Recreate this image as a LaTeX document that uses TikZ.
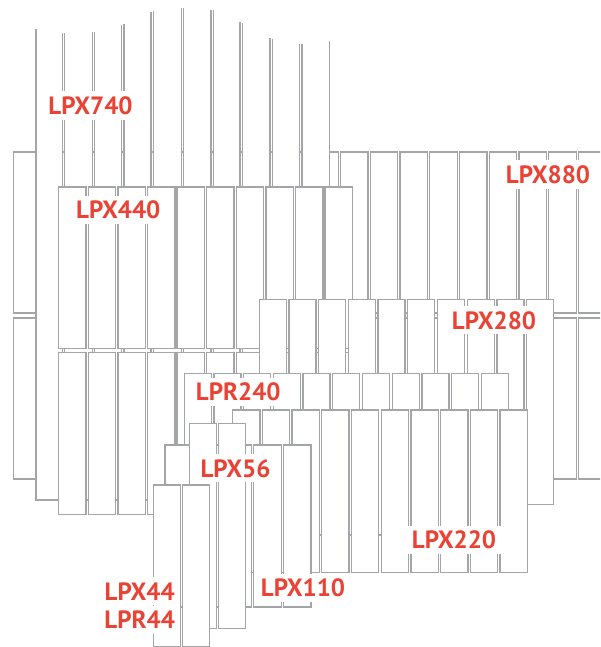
\documentclass[tikz,border=0pt]{standalone}
\usepackage{fontspec}
\setmainfont{PT Sans}
\usetikzlibrary{positioning}

\definecolor{linegray}{RGB}{163,165,166}
\definecolor{labelred}{RGB}{234,67,53}

\tikzset{
  panel/.style={draw=linegray,fill=white,line width=1.25pt},
  edge/.style={draw=linegray,line width=1.25pt},
  model/.style={fill=white,text=labelred,inner sep=5pt,
    font=\fontsize{25}{28}\selectfont\bfseries}
}

% one row of panels: first x, pitch, count, width, top, bottom
\newcommand{\panelrow}[6]{%
  \foreach \i in {1,...,#3}
    \draw[panel] ({#1+(\i-1)*#2},#5) rectangle ++(#4,{#6-#5});
}

\begin{document}
\begin{tikzpicture}[x=1pt,y=-1pt]
    \useasboundingbox (0,0) rectangle (600,647);
    \clip (0,0) rectangle (600,647);
    % LPX880, two rows at the back
    \panelrow{13.2}{29.75}{20}{27.6}{152}{313}
    \panelrow{13.2}{29.75}{20}{27.6}{318}{479}
    % LPX740, open at the top
    \foreach \l/\r/\tl/\tr in {36/62.3/29/33.3, 64.3/92.3/33.3/32.3,
        94.3/121.7/32.3/25, 124/151/24/12.3, 153.5/181.7/11.3/7.7,
        183.7/211/7.7/10, 213.3/240/10/21.7, 242.3/270/22.7/37.7,
        272.7/299.3/38.7/44, 302/329.3/44/41}
    {
        \fill[white] (\l,500) -- (\l,\tl) -- (\r,\tr) -- (\r,500) -- cycle;
        \draw[edge] (\l,\tl) -- (\l,500) -- (\r,500) -- (\r,\tr);
    }
    % LPX440
    \panelrow{58.7}{29.6}{10}{27.4}{187}{348.5}
    \panelrow{58.7}{29.6}{10}{27.4}{352.5}{514.5}
    % LPX280
    \panelrow{259.3}{29.7}{10}{27}{299.3}{504.3}
    % LPR240
    \panelrow{184.3}{29.7}{11}{27}{373.3}{535}
    % LPX220
    \panelrow{232.7}{29.7}{10}{27.3}{410}{572.3}
    % LPX110
    \panelrow{165}{29.6}{5}{27.5}{445}{607}
    % LPX56
    \panelrow{189.3}{29.4}{2}{27}{423.3}{628.7}
    % LPX44 / LPR44
    \panelrow{153.3}{29.4}{2}{27}{485}{646.5}

    \node[model] (lpx740) at (90.5,105.5) {LPX740};
    \node[model] (lpx880) at (548,174.5) {LPX880};
    \node[model] (lpx440) at (118.3,210) {LPX440};
    \node[model] (lpx280) at (494,320.3) {LPX280};
    \node[model] (lpr240) at (238.3,392) {LPR240};
    \node[model] (lpx56) at (235.5,468.3) {LPX56};
    \node[model] (lpx220) at (454,540) {LPX220};
    \node[model] (lpx110) at (303,588) {LPX110};
    \node[model] (lpx44) at (139.7,591.3) {LPX44};
    \node[model] (lpr44) [below=0.5pt of lpx44] {LPR44};
\end{tikzpicture}
\end{document}
